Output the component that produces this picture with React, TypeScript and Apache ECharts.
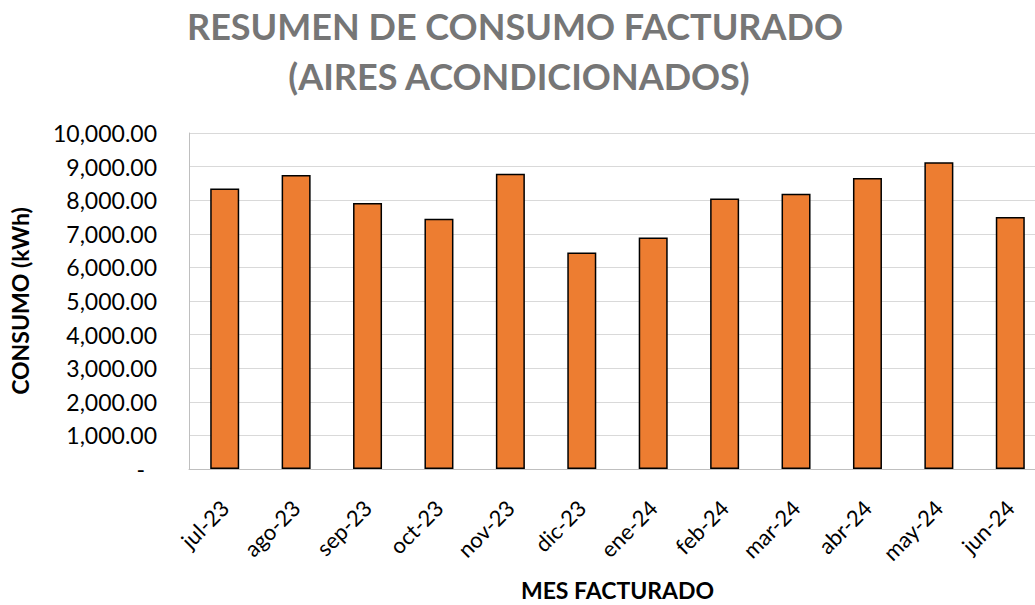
import React, { useEffect, useRef } from "react";
import * as echarts from "echarts";

const titleLines = ["RESUMEN DE CONSUMO FACTURADO", "(AIRES ACONDICIONADOS)"];
const xAxisTitle = "MES FACTURADO";
const yAxisTitle = "CONSUMO (kWh)";
const categories = [
  "jul-23", "ago-23", "sep-23", "oct-23", "nov-23", "dic-23",
  "ene-24", "feb-24", "mar-24", "abr-24", "may-24", "jun-24",
];
const consumo = [8350, 8750, 7920, 7450, 8790, 6440, 6890, 8050, 8190, 8660, 9130, 7500];
const yMin = 0;
const yMax = 10000;
const yStep = 1000;

const FONT = "Lato";

function fmt(v: number): string {
  if (v === 0) return "{d|-}";
  return v.toLocaleString("en-US", { minimumFractionDigits: 2, maximumFractionDigits: 2 });
}

export default function App() {
  const ref = useRef<HTMLDivElement>(null);
  useEffect(() => {
    if (!ref.current) return;
    const chart = echarts.init(ref.current, null, { renderer: "svg" });
    chart.setOption({
      animation: false,
      backgroundColor: "#ffffff",
      textStyle: { fontFamily: FONT },
      graphic: [
        {
          type: "text",
          x: 515,
          y: 26,
          style: {
            text: titleLines[0],
            fill: "#767676",
            font: `bold 36px ${FONT}`,
            textAlign: "center",
            textVerticalAlign: "middle",
          },
        },
        {
          type: "text",
          x: 519,
          y: 76,
          style: {
            text: titleLines[1],
            fill: "#767676",
            font: `bold 36px ${FONT}`,
            textAlign: "center",
            textVerticalAlign: "middle",
          },
        },
      ],
      grid: {
        left: 189,
        top: 133,
        width: 857,
        height: 336,
        containLabel: false,
        outerBoundsMode: "none",
      },
      xAxis: {
        type: "category",
        data: categories,
        name: xAxisTitle,
        nameLocation: "middle",
        nameGap: 109,
        nameTextStyle: { fontFamily: FONT, fontWeight: "bold", fontSize: 23, color: "#000" },
        axisLine: { show: true, lineStyle: { color: "#bfbfbf", width: 1 } },
        axisTick: { show: false },
        axisLabel: {
          rotate: 45,
          margin: 35,
          fontFamily: FONT,
          fontSize: 22,
          color: "#000",
          interval: 0,
        },
        splitLine: { show: false },
      },
      yAxis: {
        type: "value",
        min: yMin,
        max: yMax,
        interval: yStep,
        name: yAxisTitle,
        nameLocation: "middle",
        nameGap: 158,
        nameRotate: 90,
        nameTextStyle: { fontFamily: FONT, fontWeight: "bold", fontSize: 23, color: "#000" },
        axisLine: { show: true, lineStyle: { color: "#bfbfbf", width: 1 } },
        axisTick: { show: false },
        axisLabel: {
          margin: 32,
          fontFamily: FONT,
          fontSize: 23,
          color: "#000",
          formatter: fmt,
          rich: { d: { fontFamily: FONT, fontSize: 23, color: "#000", padding: [0, 12, 0, 0] } },
        },
        splitLine: { show: true, lineStyle: { color: "#d9d9d9", width: 1 } },
      },
      series: [
        {
          type: "bar",
          data: consumo,
          barWidth: 29,
          itemStyle: { color: "#ED7D31", borderColor: "#000000", borderWidth: 1.5 },
        },
      ],
    });
    return () => chart.dispose();
  }, []);
  return (
    <div
      ref={ref}
      style={{ position: "absolute", left: 0, top: 0, width: 1035, height: 605, overflow: "hidden" }}
    />
  );
}
